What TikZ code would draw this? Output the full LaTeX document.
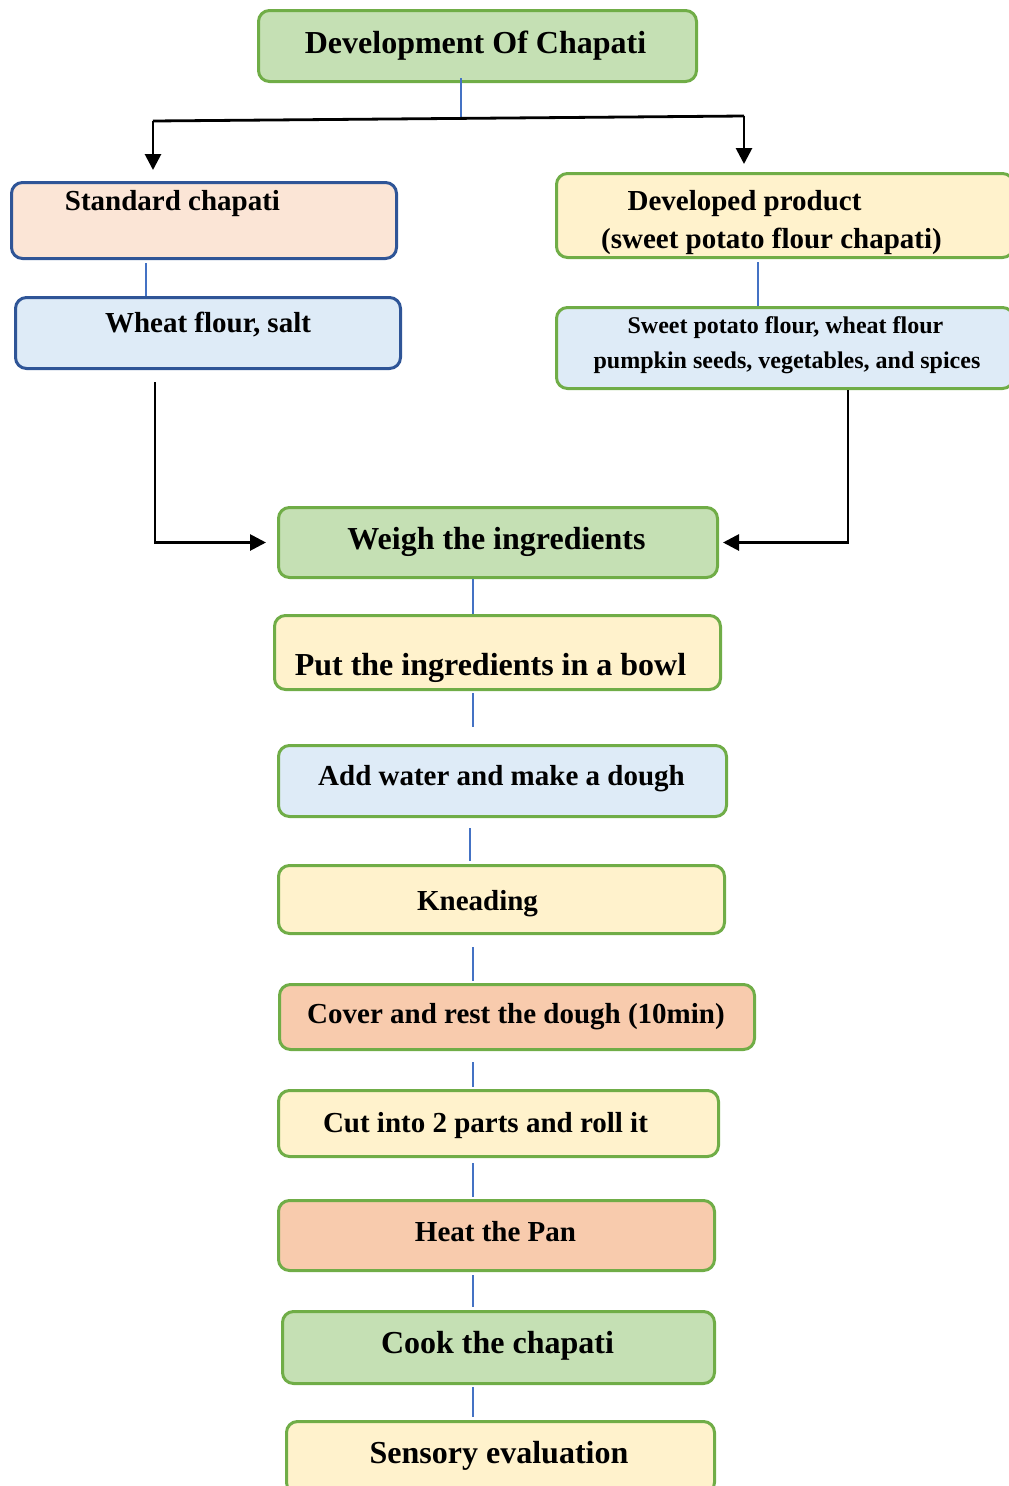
\documentclass[tikz,border=0pt]{standalone}
\usepackage{fontspec}
\setmainfont{Liberation Serif}
\usetikzlibrary{arrows.meta}

\definecolor{gfill}{HTML}{C5E0B4}
\definecolor{gline}{HTML}{70AD47}
\definecolor{yfill}{HTML}{FFF2CC}
\definecolor{bfill}{HTML}{DEEBF7}
\definecolor{pfill}{HTML}{FBE5D6}
\definecolor{ofill}{HTML}{F8CBAD}
\definecolor{navy}{HTML}{2F5597}
\definecolor{link}{HTML}{4472C4}

\tikzset{
  box/.style={draw=gline, rounded corners=11pt, line width=3pt, inner sep=0pt, anchor=north west},
  navybox/.style={box, draw=navy},
  big/.style={font=\fontsize{32}{38}\selectfont\bfseries, inner sep=0pt, anchor=base},
  mid/.style={font=\fontsize{29}{35}\selectfont\bfseries, inner sep=0pt, anchor=base},
  small/.style={font=\fontsize{24}{29}\selectfont\bfseries, inner sep=0pt, anchor=base},
  blueline/.style={draw=link, line width=2pt},
  blackline/.style={draw=black, line width=2.8pt},
  arrowline/.style={blackline, -{Triangle[length=16pt,width=16pt]}},
}

\begin{document}
\begin{tikzpicture}[x=1pt,y=-1pt]
\useasboundingbox (0,0) rectangle (1009,1486);

% boxes
\node[box, fill=gfill, minimum width=438, minimum height=71] (title) at (257,9) {};
\node[navybox, fill=pfill, minimum width=385, minimum height=76] (std) at (10,181) {};
\node[navybox, fill=bfill, minimum width=385, minimum height=71] (wheat) at (14,296) {};
\node[box, fill=yfill, minimum width=457, minimum height=84] (dev) at (555,172) {};
\node[box, fill=bfill, minimum width=457, minimum height=81] (sp) at (555,306) {};
\node[box, fill=gfill, minimum width=439, minimum height=70] (weigh) at (277,506) {};
\node[box, fill=yfill, minimum width=446, minimum height=74] (put) at (273,614) {};
\node[box, fill=bfill, minimum width=448, minimum height=71] (add) at (277,744) {};
\node[box, fill=yfill, minimum width=446, minimum height=68] (knead) at (277,864) {};
\node[box, fill=ofill, minimum width=475, minimum height=65] (cover) at (278,983) {};
\node[box, fill=yfill, minimum width=440, minimum height=66] (cut) at (277,1089) {};
\node[box, fill=ofill, minimum width=436, minimum height=70] (heat) at (277,1199) {};
\node[box, fill=gfill, minimum width=432, minimum height=72] (cook) at (281,1310) {};
\node[box, fill=yfill, minimum width=428, minimum height=72] (sens) at (285,1420) {};

% labels
\node[big] (title-t) at (475.5,53) {Development Of Chapati};
\node[mid] (std-t) at (172.5,210) {Standard chapati};
\node[mid] (wheat-t) at (208,332) {Wheat flour, salt};
\node[mid] (dev-t1) at (744.5,210) {Developed product};
\node[mid] (dev-t2) at (771.5,248) {(sweet potato flour chapati)};
\node[small] (sp-t1) at (785.5,333) {Sweet potato flour, wheat flour};
\node[small] (sp-t2) at (787,368) {pumpkin seeds, vegetables, and spices};
\node[big] (weigh-t) at (496.5,549) {Weigh the ingredients};
\node[big] (put-t) at (490.5,675) {Put the ingredients in a bowl};
\node[mid] (add-t) at (501.5,785) {Add water and make a dough};
\node[mid] (knead-t) at (477.5,910) {Kneading};
\node[mid] (cover-t) at (516,1023) {Cover and rest the dough (10min)};
\node[mid] (cut-t) at (485.5,1132) {Cut into 2 parts and roll it};
\node[mid] (heat-t) at (495.5,1241) {Heat the Pan};
\node[big] (cook-t) at (497.5,1353) {Cook the chapati};
\node[big] (sens-t) at (499,1463) {Sensory evaluation};

% branching from the title
\coordinate (split) at (461,117);
\coordinate (cL) at (153,121);
\coordinate (cR) at (744,116);
\draw[blueline] ([yshift=5pt]title.south -| split) -- (split);
\draw[blackline] (cL) -- (cR);
\draw[arrowline] (cL) -- ([yshift=11pt]std.north -| cL);
\draw[arrowline] (cR) -- ([yshift=8pt]dev.north -| cR);

% ingredient links
\coordinate (sx) at (146,0);
\coordinate (dx) at (758,0);
\draw[blueline, shorten <=3pt] (std.south -| sx) -- (wheat.north -| sx);
\draw[blueline, shorten <=3pt] (dev.south -| dx) -- (sp.north -| dx);

% feeds into the first step
\coordinate (lx) at (155,0);
\coordinate (rx) at (848,0);
\draw[arrowline, shorten <=12pt, shorten >=11pt] (wheat.south -| lx) |- (weigh.west);
\draw[arrowline, shorten >=4pt] (sp.south -| rx) |- (weigh.east);

% process chain
\coordinate (spine) at (473,0);
\coordinate (spine2) at (470,0);
\draw[blueline] (weigh.south -| spine) -- (put.north -| spine);
\draw[blueline, shorten <=2pt, shorten >=17pt] (put.south -| spine) -- (add.north -| spine);
\draw[blueline, shorten <=10pt, shorten >=3pt] (add.south -| spine2) -- (knead.north -| spine2);
\draw[blueline, shorten <=12pt, shorten >=2pt] (knead.south -| spine) -- (cover.north -| spine);
\draw[blueline, shorten <=11pt, shorten >=2pt] (cover.south -| spine) -- (cut.north -| spine);
\draw[blueline, shorten <=5pt, shorten >=2pt] (cut.south -| spine) -- (heat.north -| spine);
\draw[blueline, shorten <=3pt, shorten >=3pt] (heat.south -| spine) -- (cook.north -| spine);
\draw[blueline, shorten <=2pt, shorten >=3pt] (cook.south -| spine) -- (sens.north -| spine);
\end{tikzpicture}
\end{document}
